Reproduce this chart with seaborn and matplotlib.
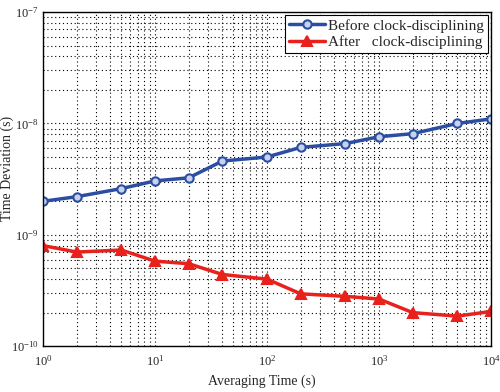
import numpy as np
import pandas as pd
import matplotlib
matplotlib.use("Agg")
import matplotlib.pyplot as plt
import matplotlib.ticker as mticker
import seaborn as sns

tau = [1, 2, 5, 10, 20, 40, 100, 200, 500, 1000, 2000, 5000, 10000]
before = [2.0e-9, 2.2e-9, 2.6e-9, 3.05e-9, 3.25e-9, 4.6e-9, 5.0e-9, 6.1e-9, 6.6e-9, 7.6e-9, 8.1e-9, 1.0e-8, 1.1e-8]
after = [8.0e-10, 7.0e-10, 7.3e-10, 5.8e-10, 5.5e-10, 4.4e-10, 4.0e-10, 2.95e-10, 2.8e-10, 2.65e-10, 2.0e-10, 1.86e-10, 2.05e-10]
labels = ["Before clock-disciplining", "After   clock-disciplining"]

df = pd.concat([
    pd.DataFrame({"tau": tau, "dev": before, "series": labels[0]}),
    pd.DataFrame({"tau": tau, "dev": after, "series": labels[1]}),
])

sns.set_style("white")
plt.rcParams["font.family"] = ["Liberation Serif", "DejaVu Serif"]
plt.rcParams["mathtext.fontset"] = "custom"
plt.rcParams["mathtext.rm"] = "Liberation Serif"
plt.rcParams["mathtext.it"] = "Liberation Serif"

fig = plt.figure(figsize=(5, 3.92), dpi=100)
ax = fig.add_axes([0.086, 0.117, 0.896, 0.852])

colors = {labels[0]: "#2b4ea2", labels[1]: "#e8211d"}
markers = {labels[0]: "o", labels[1]: "^"}
sns.lineplot(data=df, x="tau", y="dev", hue="series", style="series",
             palette=colors, markers=markers, dashes=False, linewidth=2.5,
             markersize=6.5, ax=ax, legend=False)
for line, lab in zip(ax.get_lines(), labels):
    line.set_label(lab)
    line.set_markeredgecolor(colors[lab])
    line.set_markeredgewidth(1.5)
    if lab == labels[0]:
        line.set_markerfacecolor("#c8d2ec")
        line.set_markersize(6)
    else:
        line.set_markerfacecolor(colors[lab])

ax.set_xscale("log")
ax.set_yscale("log")
ax.set_xlim(1, 1e4)
ax.set_ylim(1e-10, 1e-7)
ax.grid(True, which="both", color="black", linestyle=(0, (1, 2.5)), linewidth=0.8)
for s in ax.spines.values():
    s.set_color("black")
    s.set_linewidth(1.0)

def fmt(v, pos):
    e = int(round(np.log10(v)))
    return r"$\mathregular{10^{%d}}$" % e

ax.xaxis.set_major_formatter(mticker.FuncFormatter(fmt))
ax.yaxis.set_major_formatter(mticker.FuncFormatter(fmt))
ax.xaxis.set_minor_formatter(mticker.NullFormatter())
ax.yaxis.set_minor_formatter(mticker.NullFormatter())
ax.tick_params(which="both", direction="in", top=False, right=False, labelsize=9)
ax.tick_params(which="major", length=0, pad=3)
ax.tick_params(which="minor", length=0)
ax.tick_params(axis="x", pad=6)
ax.set_xlabel("Averaging Time (s)", fontsize=10)
ax.set_ylabel("Time Deviation (s)", fontsize=10)
ax.xaxis.set_label_coords(0.489, -0.086)
ax.yaxis.set_label_coords(-0.064, 0.533)

leg = ax.legend(loc="upper right", fontsize=11, frameon=True, fancybox=False,
                borderpad=0.25, handlelength=2.4, handletextpad=0.2,
                borderaxespad=0.2, labelspacing=0.15)
leg.get_frame().set_edgecolor("black")
leg.get_frame().set_linewidth(0.8)
leg.get_frame().set_alpha(1)

fig.savefig("out.png", dpi=100)
